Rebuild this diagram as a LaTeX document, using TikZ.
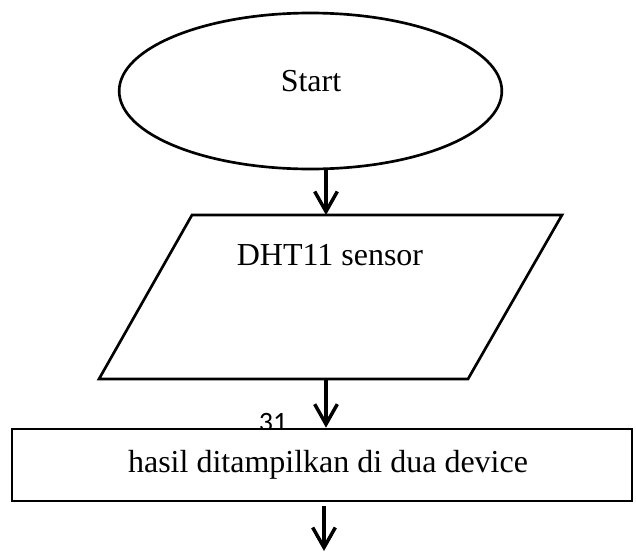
\documentclass[tikz,border=0pt]{standalone}
\usepackage{fontspec}
\setmainfont{Liberation Serif}
\newfontfamily\pagefont{Carlito}
\usetikzlibrary{shapes.geometric,arrows.meta}

\begin{document}
\begin{tikzpicture}[x=0.75pt,y=-0.75pt,line width=2pt,
  arr/.style={line width=2.6pt,-{Straight Barb[length=15pt,width=17pt,line width=2.6pt]}},
  txt/.style={font=\fontsize{24}{28}\selectfont,inner sep=0pt}]
  \useasboundingbox (0,0) rectangle (636,554);
  % ellipse Start
  \node[draw,ellipse,minimum width=287pt,minimum height=117pt,inner sep=0pt] (start) at (310.5,91) {};
  \node[txt] (start-t) at (311,81) {Start};
  % parallelogramme (entree)
  \coordinate (p1) at (192,215);
  \coordinate (p2) at (562,215);
  \coordinate (p3) at (468,379);
  \coordinate (p4) at (99,379);
  \draw (p1) -- (p2) -- (p3) -- (p4) -- cycle;
  \node[txt] (sensor) at (330,255) {DHT11 sensor};
  \coordinate (in-top) at (326,215); % milieu haut
  \coordinate (in-bot) at (326,379); % milieu bas
  % numero de page
  \node[font=\pagefont\fontsize{21}{24}\selectfont,inner sep=0pt] (page) at (273,423) {31};
  % rectangle (sortie)
  \node[draw,fill=white,minimum width=465pt,minimum height=54pt,inner sep=0pt] (out) at (322,465) {};
  \node[txt] (out-t) at (328,465) {hasil ditampilkan di dua device};
  % fleches
  \draw[arr] (start.south -| in-top) -- (in-top);
  \draw[arr] (in-bot) -- (out.north -| in-bot);
  \coordinate (end) at (324,551);
  \draw[arr] ([yshift=-3pt]out.south -| end) -- (end);
\end{tikzpicture}
\end{document}
